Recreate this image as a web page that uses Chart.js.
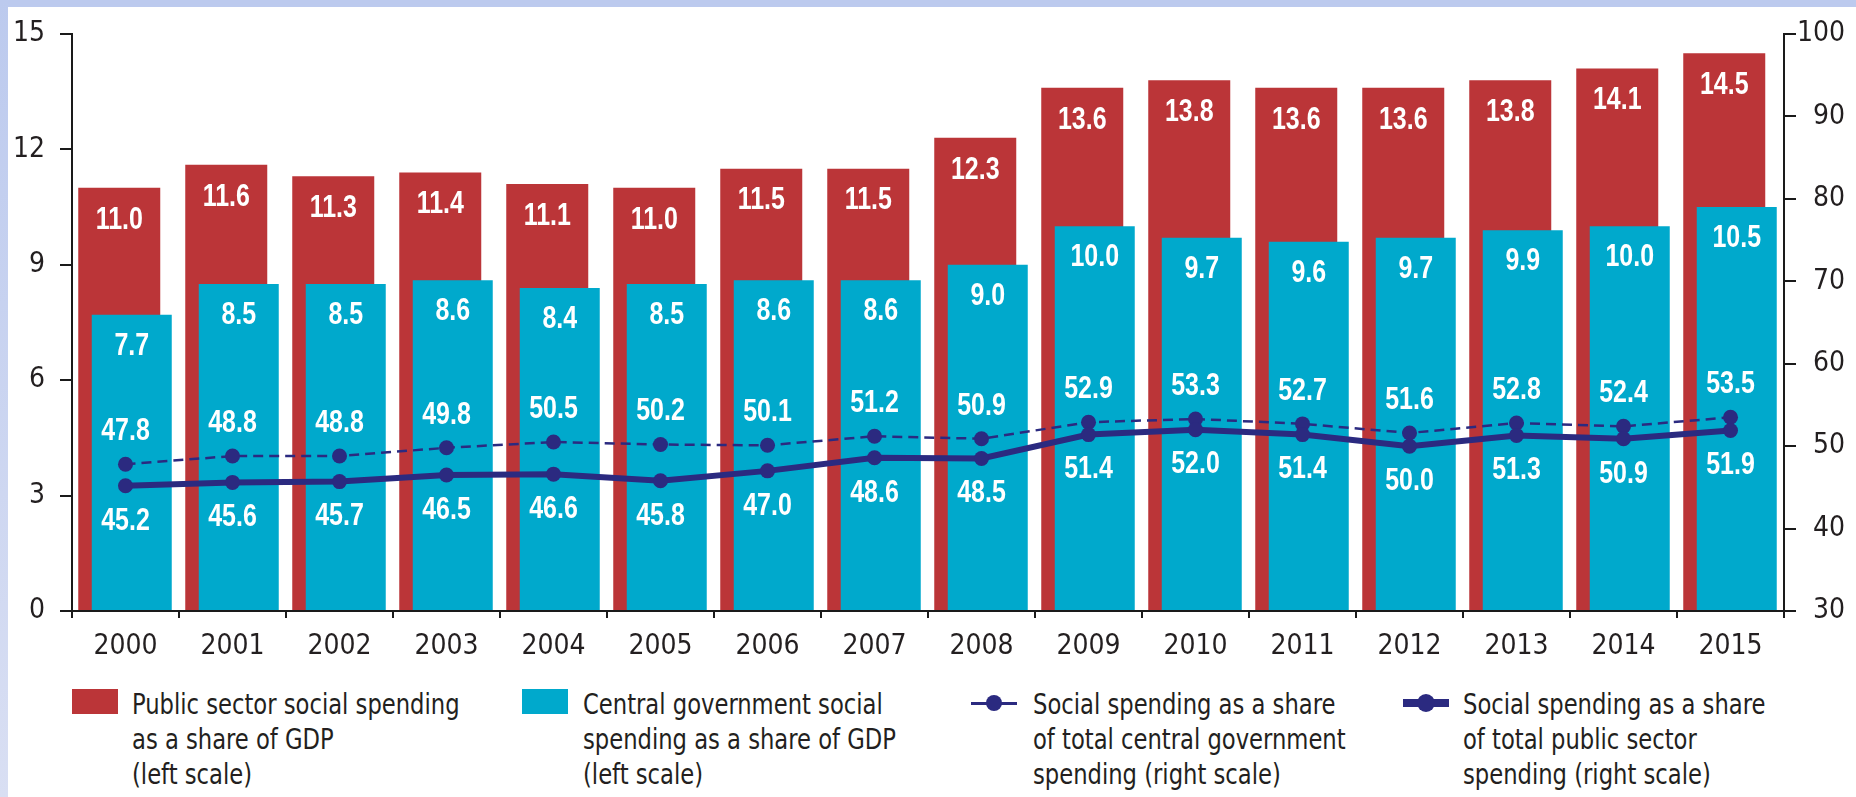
<!DOCTYPE html>
<html>
<head>
<meta charset="utf-8">
<script src="https://cdn.jsdelivr.net/npm/chart.js@4.4.1/dist/chart.umd.min.js"></script>
<style>
body{margin:0;background:#fff;width:1856px;height:797px;overflow:hidden;position:relative;
  font-family:'Liberation Sans Narrow','DejaVu Sans Condensed',sans-serif;}
#frameTop{position:absolute;left:0;top:0;width:1856px;height:7px;background:#bccaee;z-index:5;}
#frameLeft{position:absolute;left:0;top:0;width:8px;height:797px;background:linear-gradient(#bccaee,#d9dff3);z-index:5;}
#chartBox{position:absolute;left:0;top:0;width:1856px;height:661px;}
.legItem{position:absolute;top:687px;font-size:28px;line-height:35px;color:#231f20;white-space:nowrap;
  transform:scaleX(0.9);transform-origin:0 0;}
.mark{position:absolute;}
</style>
</head>
<body>
<div id="frameTop"></div>
<div id="frameLeft"></div>
<div id="chartBox"><canvas id="chart0"></canvas></div>
<div id="legend"></div>
<script>
const years = ['2000','2001','2002','2003','2004','2005','2006','2007','2008','2009','2010','2011','2012','2013','2014','2015'];
const publicGdp = [11.0, 11.6, 11.3, 11.4, 11.1, 11.0, 11.5, 11.5, 12.3, 13.6, 13.8, 13.6, 13.6, 13.8, 14.1, 14.5];
const centralGdp = [7.7, 8.5, 8.5, 8.6, 8.4, 8.5, 8.6, 8.6, 9.0, 10.0, 9.7, 9.6, 9.7, 9.9, 10.0, 10.5];
const centralShare = [47.8, 48.8, 48.8, 49.8, 50.5, 50.2, 50.1, 51.2, 50.9, 52.9, 53.3, 52.7, 51.6, 52.8, 52.4, 53.5];
const publicShare = [45.2, 45.6, 45.7, 46.5, 46.6, 45.8, 47.0, 48.6, 48.5, 51.4, 52.0, 51.4, 50.0, 51.3, 50.9, 51.9];
const legendTexts = [
  ['Public sector social spending', 'as a share of GDP', '(left scale)'],
  ['Central government social', 'spending as a share of GDP', '(left scale)'],
  ['Social spending as a share', 'of total central government', 'spending (right scale)'],
  ['Social spending as a share', 'of total public sector', 'spending (right scale)']
];

const FONT = "'Liberation Sans Narrow','DejaVu Sans Condensed',sans-serif";
const LABEL_FONT = "'Liberation Sans',Arial,sans-serif";
const RED = '#bb3538';
const BLUE = '#00a9cc';
const NAVY = '#2b2a80';
const INK = '#231f20';

// white numbers on bars and next to the points (squeezed to look condensed)
const valueLabels = {
  id: 'valueLabels',
  afterDatasetsDraw(chart) {
    const ctx = chart.ctx;
    const squeeze = 0.78;
    ctx.save();
    ctx.fillStyle = '#fff';
    ctx.textAlign = 'center';
    ctx.textBaseline = 'middle';
    ctx.font = 'bold 32px ' + LABEL_FONT;
    ctx.scale(squeeze, 1);
    chart.data.datasets.forEach((ds, i) => {
      const meta = chart.getDatasetMeta(i);
      meta.data.forEach((el, j) => {
        ctx.fillText(ds.data[j].toFixed(1), el.x / squeeze, el.y + ds.labelShift);
      });
    });
    ctx.restore();
  }
};

Chart.defaults.font.family = FONT;
Chart.defaults.color = INK;

const datasets = [
  {type:'bar', label: legendTexts[0].join(' '), data: publicGdp, backgroundColor: RED, yAxisID:'y', order:3,
   categoryPercentage: -25/107, barPercentage: -82/12.5, labelShift: 32},
  {type:'bar', label: legendTexts[1].join(' '), data: centralGdp, backgroundColor: BLUE, yAxisID:'y', order:2,
   categoryPercentage: -25/107, barPercentage: -80/12.5, labelShift: 31},
  {type:'line', label: legendTexts[2].join(' '), data: centralShare, yAxisID:'y1', order:1,
   borderColor: NAVY, borderWidth: 2.5, borderDash:[10,6], pointRadius:7.5, pointBackgroundColor: NAVY, pointBorderWidth:0,
   labelShift: -33},
  {type:'line', label: legendTexts[3].join(' '), data: publicShare, yAxisID:'y1', order:0,
   borderColor: NAVY, borderWidth: 6, pointRadius:7.5, pointBackgroundColor: NAVY, pointBorderWidth:0,
   labelShift: 35}
];

const chart = new Chart('chart0', {
  data: {labels: years, datasets: datasets},
  options: {
    responsive: true,
    maintainAspectRatio: false,
    animation: false,
    layout: {padding: {top: 34, left: 0, right: 0, bottom: 0}},
    plugins: {legend: {display: false}, tooltip: {enabled: false}},
    scales: {
      x: {
        offset: true,
        grid: {offset: true, drawOnChartArea: false, tickLength: 7, color: '#1a1a1a', lineWidth: 2},
        border: {color: '#1a1a1a', width: 2},
        ticks: {font: {size: 28}, padding: 12, color: INK, maxRotation: 0},
        afterFit(s) { s.height = 50; }
      },
      y: {
        position: 'left', min: 0, max: 15,
        grid: {drawOnChartArea: false, tickLength: 12, color: '#1a1a1a', lineWidth: 2},
        border: {color: '#1a1a1a', width: 2},
        ticks: {stepSize: 3, font: {size: 28}, padding: 15, color: INK},
        afterFit(s) { s.width = 72; }
      },
      y1: {
        position: 'right', min: 30, max: 100,
        grid: {drawOnChartArea: false, tickLength: 12, color: '#1a1a1a', lineWidth: 2},
        border: {color: '#1a1a1a', width: 2},
        // figure space keeps the two-digit labels flush right with "100"
        ticks: {stepSize: 10, font: {size: 28}, padding: 1, color: INK,
                callback: v => (v < 100 ? '\u2007' : '') + v},
        afterFit(s) { s.width = 72; }
      }
    }
  },
  plugins: [valueLabels]
});

// legend below the chart
const legendSpots = [
  {mark: 72, text: 132}, {mark: 522, text: 583}, {mark: 971, text: 1033}, {mark: 1403, text: 1463}
];
const legend = document.getElementById('legend');
chart.data.datasets.forEach((ds, i) => {
  const spot = legendSpots[i];
  if (ds.type === 'bar') {
    const sw = document.createElement('div');
    sw.className = 'mark';
    sw.style.cssText = `left:${spot.mark}px;top:689px;width:46px;height:25px;background:${ds.backgroundColor}`;
    legend.appendChild(sw);
  } else {
    const thick = ds.borderWidth > 4;
    const ln = document.createElement('div');
    ln.className = 'mark';
    const lw = thick ? 8 : 3;
    ln.style.cssText = `left:${spot.mark}px;top:${703 - lw/2}px;width:46px;height:${lw}px;background:${ds.borderColor}`;
    legend.appendChild(ln);
    const dot = document.createElement('div');
    dot.className = 'mark';
    const d = thick ? 18 : 16;
    dot.style.cssText = `left:${spot.mark + 23 - d/2}px;top:${703 - d/2}px;width:${d}px;height:${d}px;border-radius:50%;background:${ds.borderColor}`;
    legend.appendChild(dot);
  }
  const tx = document.createElement('div');
  tx.className = 'legItem';
  tx.style.left = spot.text + 'px';
  tx.innerHTML = legendTexts[i].join('<br>');
  legend.appendChild(tx);
});
</script>
</body>
</html>
